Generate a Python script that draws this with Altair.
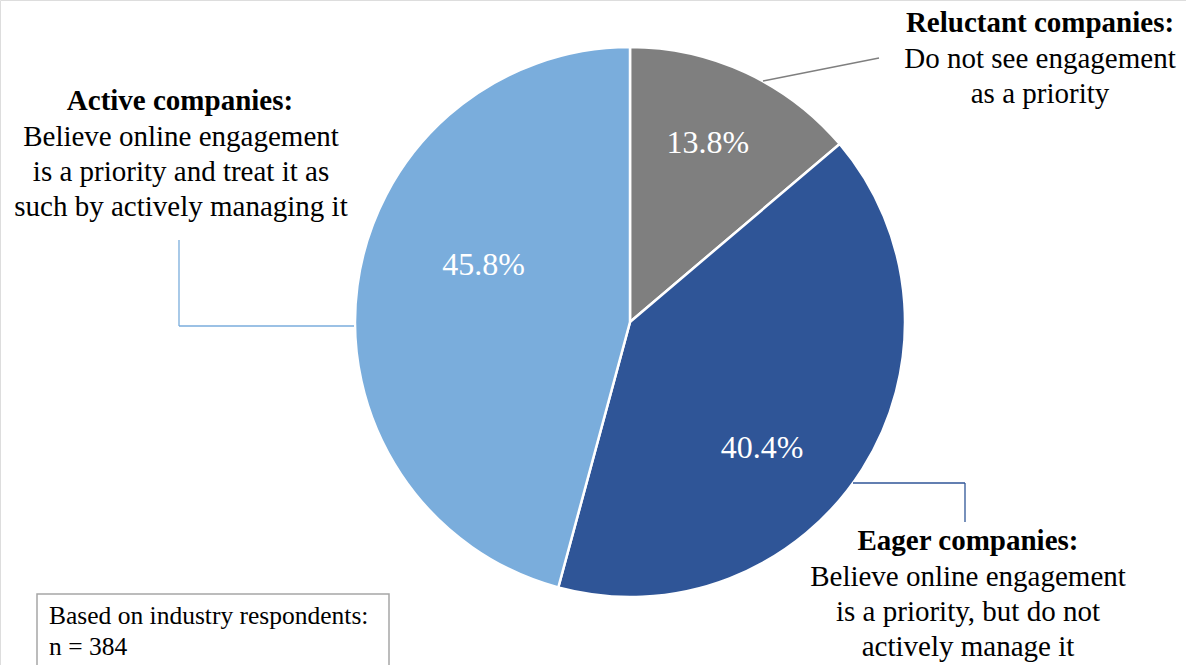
import altair as alt
import pandas as pd

# ---- data ----
categories = ["Reluctant", "Eager", "Active"]
shares = [13.8, 40.4, 45.8]
slice_order = [1, 2, 3]
colors = ["#7F7F7F", "#2F5597", "#7AADDC"]

rel_title = "Reluctant companies:"
rel_body = ["Do not see engagement", "as a priority"]
act_title = "Active companies:"
act_body = ["Believe online engagement", "is a priority and treat it as", "such by actively managing it"]
eag_title = "Eager companies:"
eag_body = ["Believe online engagement", "is a priority, but do not", "actively manage it"]
note_lines = ["Based on industry respondents:", "n = 384"]

FONT = "Liberation Serif"
CX, CY, R = 630, 322, 275

df = pd.DataFrame({"cat": categories, "share": shares, "idx": slice_order})
base = alt.Chart(df).transform_calculate(
    label="format(datum.share, '.1f') + '%'"
)

color_scale = alt.Scale(domain=categories, range=colors)

pie = base.mark_arc(radius=R, stroke="white", strokeWidth=2.5).encode(
    theta=alt.Theta("share:Q", stack=True),
    color=alt.Color("cat:N", scale=color_scale, legend=None),
    order=alt.Order("idx:Q"),
    x=alt.value(CX),
    y=alt.value(CY),
)


def pct_layer(cat, dx, dy):
    return base.mark_text(
        radius=185, font=FONT, fontSize=32, color="white",
        align="center", baseline="middle", dx=dx, dy=dy,
    ).encode(
        theta=alt.Theta("share:Q", stack=True),
        order=alt.Order("idx:Q"),
        text="label:N",
        opacity=alt.condition(f"datum.cat == '{cat}'", alt.value(1), alt.value(0)),
        x=alt.value(CX),
        y=alt.value(CY),
    )


pct = [pct_layer("Reluctant", 0, -11), pct_layer("Eager", -24, 27), pct_layer("Active", 37, -33)]

one = pd.DataFrame({"k": [0]})


def rule(x1, y1, x2, y2, color):
    return alt.Chart(one).mark_rule(color=color, strokeWidth=1.3).encode(
        x=alt.value(x1), y=alt.value(y1), x2=alt.value(x2), y2=alt.value(y2)
    )


leaders = [
    rule(763, 81, 879, 58, "#7F7F7F"),
    rule(179, 326, 354, 326, "#7AADDC"),
    rule(179, 240, 179, 326, "#7AADDC"),
    rule(853, 483, 965, 483, "#2F5597"),
    rule(965, 483, 965, 522, "#2F5597"),
]


def text_block(lines, x, y, size, weight="normal", align="center", line_h=35):
    return alt.Chart(one).mark_text(
        text=lines, font=FONT, fontSize=size, fontWeight=weight, color="black",
        align=align, baseline="top", lineHeight=line_h,
    ).encode(x=alt.value(x), y=alt.value(y))


labels = [
    text_block([rel_title], 1040, 9, 29, "bold"),
    text_block(rel_body, 1040, 45, 29),
    text_block([act_title], 180, 87, 29, "bold"),
    text_block(act_body, 181, 123, 29),
    text_block([eag_title], 968, 527, 29, "bold"),
    text_block(eag_body, 968, 563, 29),
]

note_box = alt.Chart(one).mark_rect(fill="white", stroke="#A6A6A6", strokeWidth=1.5).encode(
    x=alt.value(37), x2=alt.value(389), y=alt.value(594), y2=alt.value(670)
)
note = text_block(note_lines, 49, 604, 25.5, align="left", line_h=31)

chart = alt.layer(pie, *pct, *leaders, *labels, note_box, note).properties(
    width=1186, height=665,
    autosize=alt.AutoSizeParams(type="none"),
    padding=0,
).configure_view(stroke=None).configure(background="white")

chart.save("out.html", embed_options={"renderer": "svg", "actions": False})
